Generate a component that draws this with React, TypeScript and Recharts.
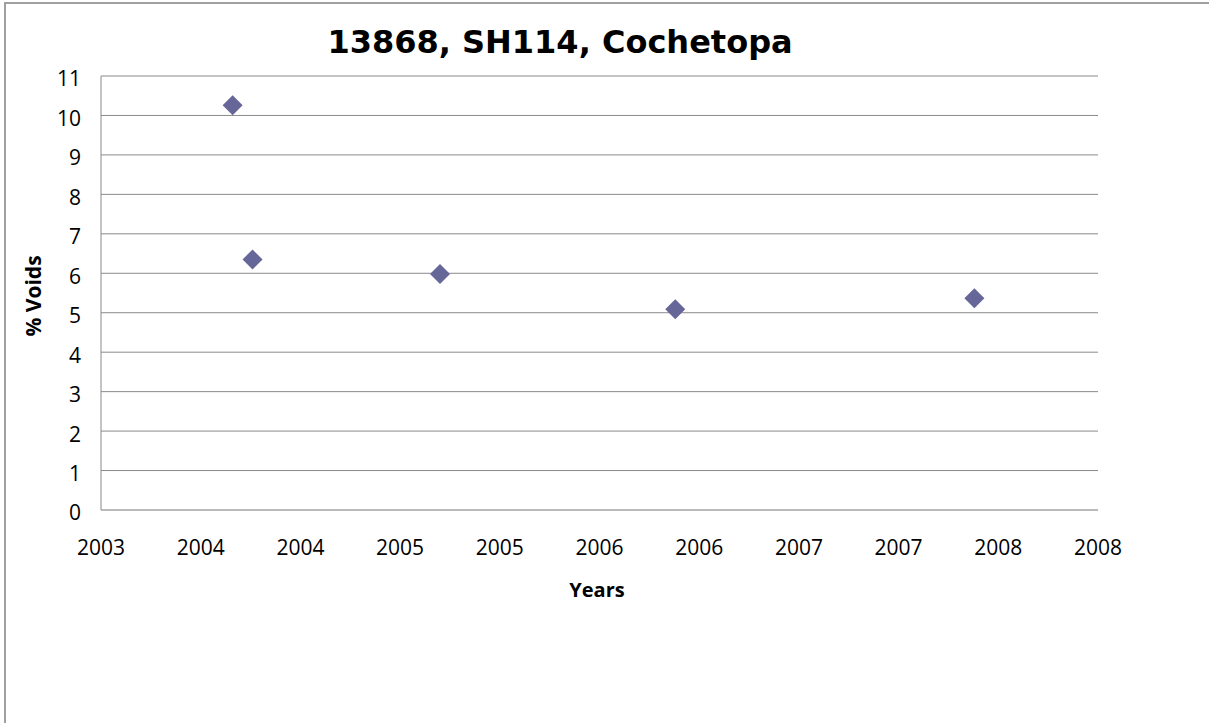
import { ScatterChart, Scatter, XAxis, YAxis, CartesianGrid } from 'recharts'

// sample dates as decimal years, % voids
const years = [2004.41, 2004.51, 2005.45, 2006.63, 2008.13]
const voids = [10.26, 6.35, 5.98, 5.09, 5.37]

// Excel date axis: a tick every half year, labelled with the year only
const xTicks = [2003.75, 2004.25, 2004.75, 2005.25, 2005.75, 2006.25, 2006.75, 2007.25, 2007.75, 2008.25, 2008.75]
const xTickLabels = ['2003', '2004', '2004', '2005', '2005', '2006', '2006', '2007', '2007', '2008', '2008']
const yTicks = [0, 1, 2, 3, 4, 5, 6, 7, 8, 9, 10, 11]

const font = '"Open Sans", sans-serif'

const Diamond = (props: any) => {
  const { cx, cy } = props
  const r = 10
  return (
    <polygon
      points={`${cx},${cy - r} ${cx + r},${cy} ${cx},${cy + r} ${cx - r},${cy}`}
      fill="#666699"
    />
  )
}

export default function App() {
  const data = years.map((y, i) => ({ year: y, voids: voids[i] }))

  return (
    <div
      style={{
        position: 'fixed', left: 0, top: 0, width: 1209, height: 723,
        overflow: 'hidden', background: '#fff', fontFamily: font,
      }}
    >
      <div
        style={{
          position: 'absolute', left: 4, top: 2, width: 1205, height: 721,
          boxShadow: 'inset 2px 2px 0 #a0a0a0',
        }}
      />
      <ScatterChart width={1209} height={723} margin={{ top: 76, right: 111, bottom: 0, left: 0 }}>
        <CartesianGrid vertical={false} stroke="#8a8a8a" />
        <XAxis
          type="number"
          dataKey="year"
          domain={[2003.75, 2008.75]}
          ticks={xTicks}
          tickFormatter={(_v: number, i: number) => xTickLabels[i]}
          allowDataOverflow
          height={213}
          tickSize={0}
          tickLine={false}
          tickMargin={30}
          axisLine={{ stroke: '#b0b0b0' }}
          tick={{ fill: '#000', fontSize: 21, fontFamily: font }}
        />
        <YAxis
          type="number"
          dataKey="voids"
          domain={[0, 11]}
          ticks={yTicks}
          width={101}
          tickSize={0}
          tickLine={false}
          tickMargin={20}
          axisLine={{ stroke: '#8a8a8a' }}
          tick={{ fill: '#000', fontSize: 21, fontFamily: font, dy: 3 }}
        />
        <Scatter data={data} shape={Diamond} isAnimationActive={false} />
      </ScatterChart>
      <div
        style={{
          position: 'absolute', left: 0, width: 1120, top: 20, textAlign: 'center',
          fontFamily: '"DejaVu Sans", sans-serif', fontSize: 32, fontWeight: 700, lineHeight: '44px',
        }}
      >
        13868, SH114, Cochetopa
      </div>
      <div style={{ position: 'absolute', left: 0, width: 1194, top: 577, textAlign: 'center', fontSize: 20, fontWeight: 700, lineHeight: '26px' }}>
        Years
      </div>
      <div
        style={{
          position: 'absolute', left: 33, top: 296, width: 200, marginLeft: -100, marginTop: -13,
          textAlign: 'center', fontSize: 21, fontWeight: 700, lineHeight: '26px', transform: 'rotate(-90deg)',
        }}
      >
        % Voids
      </div>
    </div>
  )
}
